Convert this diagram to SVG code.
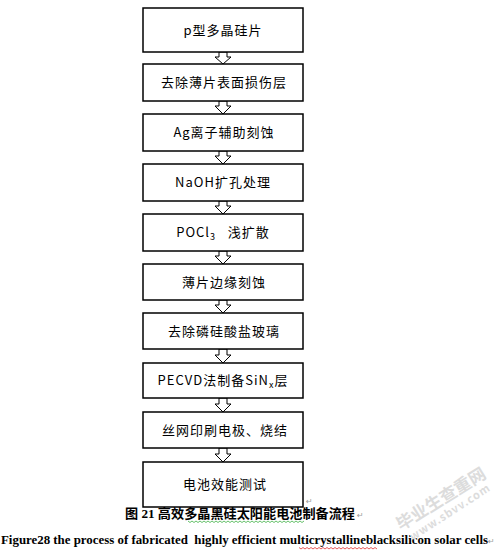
<svg xmlns="http://www.w3.org/2000/svg" width="495" height="552" viewBox="0 0 495 552">
<style>
.box{fill:#fff;stroke:#000;stroke-width:1.5}
.lbl{font-family:"Noto Sans CJK SC","Noto Sans",sans-serif;font-size:13px;fill:#000;text-anchor:middle;letter-spacing:1px}
.arr{fill:#fff;stroke:#000;stroke-width:1}
.pm{font-family:"DejaVu Sans",sans-serif;font-size:8px;fill:#9a9a9a}
.wm{font-family:"Noto Sans CJK SC",sans-serif;fill:#dcdcdc;font-weight:bold}
</style>
<rect width="495" height="552" fill="#fff"/>
<g id="connectors">
<polygon class="arr" points="219,52 227,52 227,57 231,57 223,64 215,57 219,57"/>
<polygon class="arr" points="219,101 227,101 227,106 231,106 223,114 215,106 219,106"/>
<polygon class="arr" points="219,151 227,151 227,156 231,156 223,164 215,156 219,156"/>
<polygon class="arr" points="219,201 227,201 227,206 231,206 223,214 215,206 219,206"/>
<polygon class="arr" points="219,251 227,251 227,256 231,256 223,264 215,256 219,256"/>
<polygon class="arr" points="219,300 227,300 227,305 231,305 223,313 215,305 219,305"/>
<polygon class="arr" points="219,349 227,349 227,355 231,355 223,363 215,355 219,355"/>
<polygon class="arr" points="219,398 227,398 227,404 231,404 223,412 215,404 219,404"/>
<polygon class="arr" points="219,448 227,448 227,454 231,454 223,462 215,454 219,454"/>
</g>
<g id="n1"><rect class="box" x="143" y="8" width="160" height="44"/><text class="lbl" x="223" y="35">p型多晶硅片</text></g>
<g id="n2"><rect class="box" x="143" y="64" width="160" height="37"/><text class="lbl" x="224" y="87">去除薄片表面损伤层</text></g>
<g id="n3"><rect class="box" x="143" y="114" width="160" height="37"/><text class="lbl" x="224" y="137">Ag离子辅助刻蚀</text></g>
<g id="n4"><rect class="box" x="143" y="164" width="160" height="37"/><text class="lbl" x="223" y="187">NaOH扩孔处理</text></g>
<g id="n5"><rect class="box" x="143" y="214" width="160" height="37"/><text class="lbl" x="223" y="237" xml:space="preserve">POCl<tspan font-size="9" dy="3">3</tspan><tspan dy="-3">   浅扩散</tspan></text></g>
<g id="n6"><rect class="box" x="143" y="264" width="160" height="36"/><text class="lbl" x="224" y="287">薄片边缘刻蚀</text></g>
<g id="n7"><rect class="box" x="143" y="313" width="160" height="36"/><text class="lbl" x="224" y="336">去除磷硅酸盐玻璃</text></g>
<g id="n8"><rect class="box" x="143" y="363" width="160" height="35"/><text class="lbl" x="223" y="385">PECVD法制备SiN<tspan font-size="9" dy="3">x</tspan><tspan dy="-3">层</tspan></text></g>
<g id="n9"><rect class="box" x="143" y="412" width="160" height="36"/><text class="lbl" x="225" y="435">丝网印刷电极、烧结</text></g>
<g id="n10"><rect class="box" x="143" y="462" width="160" height="45"/><text class="lbl" x="225" y="489">电池效能测试</text></g>
<text class="pm" x="306" y="504">↵</text>
<g id="captions">
<text x="125" y="518" font-family="'Liberation Serif','Noto Sans CJK SC',serif" font-size="13" font-weight="bold" textLength="230" lengthAdjust="spacingAndGlyphs">图 21 高效多晶黑硅太阳能电池制备流程</text>
<text class="pm" x="357" y="518">↵</text>
<path d="M188,521 l2,1.5 l2,-1.5 l2,1.5 l2,-1.5 l2,1.5 l2,-1.5 l2,1.5 l2,-1.5 l2,1.5 l2,-1.5 l2,1.5 l2,-1.5 l2,1.5 l2,-1.5 l2,1.5 l2,-1.5 l2,1.5 l2,-1.5 l2,1.5 l2,-1.5 l2,1.5 l2,-1.5 l2,1.5 l2,-1.5 l2,1.5 l2,-1.5 l2,1.5 l2,-1.5 l2,1.5 l2,-1.5 l2,1.5 l2,-1.5 l2,1.5 l2,-1.5 l2,1.5 l2,-1.5 l2,1.5 l2,-1.5 l2,1.5 l2,-1.5 l2,1.5 l2,-1.5 l2,1.5 l2,-1.5 l2,1.5 l2,-1.5 l2,1.5 l2,-1.5 l2,1.5 l2,-1.5 l2,1.5 l2,-1.5 l2,1.5 l2,-1.5 l2,1.5 l2,-1.5 l2,1.5 l2,-1.5" fill="none" stroke="#3cb043" stroke-width="0.8"/>
<text x="1" y="544" font-family="'Liberation Serif',serif" font-size="12" font-weight="bold" textLength="487" lengthAdjust="spacingAndGlyphs" xml:space="preserve">Figure28 the process of fabricated  highly efficient multicrystallineblacksilicon solar cells</text>
<text class="pm" x="488" y="544">↵</text>
<path d="M299,547.5 l2,1.5 l2,-1.5 l2,1.5 l2,-1.5 l2,1.5 l2,-1.5 l2,1.5 l2,-1.5 l2,1.5 l2,-1.5 l2,1.5 l2,-1.5 l2,1.5 l2,-1.5 l2,1.5 l2,-1.5 l2,1.5 l2,-1.5 l2,1.5 l2,-1.5 l2,1.5 l2,-1.5 l2,1.5 l2,-1.5 l2,1.5 l2,-1.5 l2,1.5 l2,-1.5 l2,1.5 l2,-1.5 l2,1.5 l2,-1.5 l2,1.5 l2,-1.5 l2,1.5 l2,-1.5 l2,1.5 l2,-1.5 l2,1.5" fill="none" stroke="#e03030" stroke-width="0.8"/>
</g>
<g id="watermark">
<text class="wm" x="441" y="505" font-size="17" text-anchor="middle" transform="rotate(-32 441 499)">毕业生查重网</text>
<text class="wm" x="450" y="516" font-size="11" text-anchor="middle" font-weight="normal" font-family="'Liberation Sans',sans-serif" letter-spacing="1" transform="rotate(-33 450 512)">www.sbvv.com</text>
</g>
</svg>
